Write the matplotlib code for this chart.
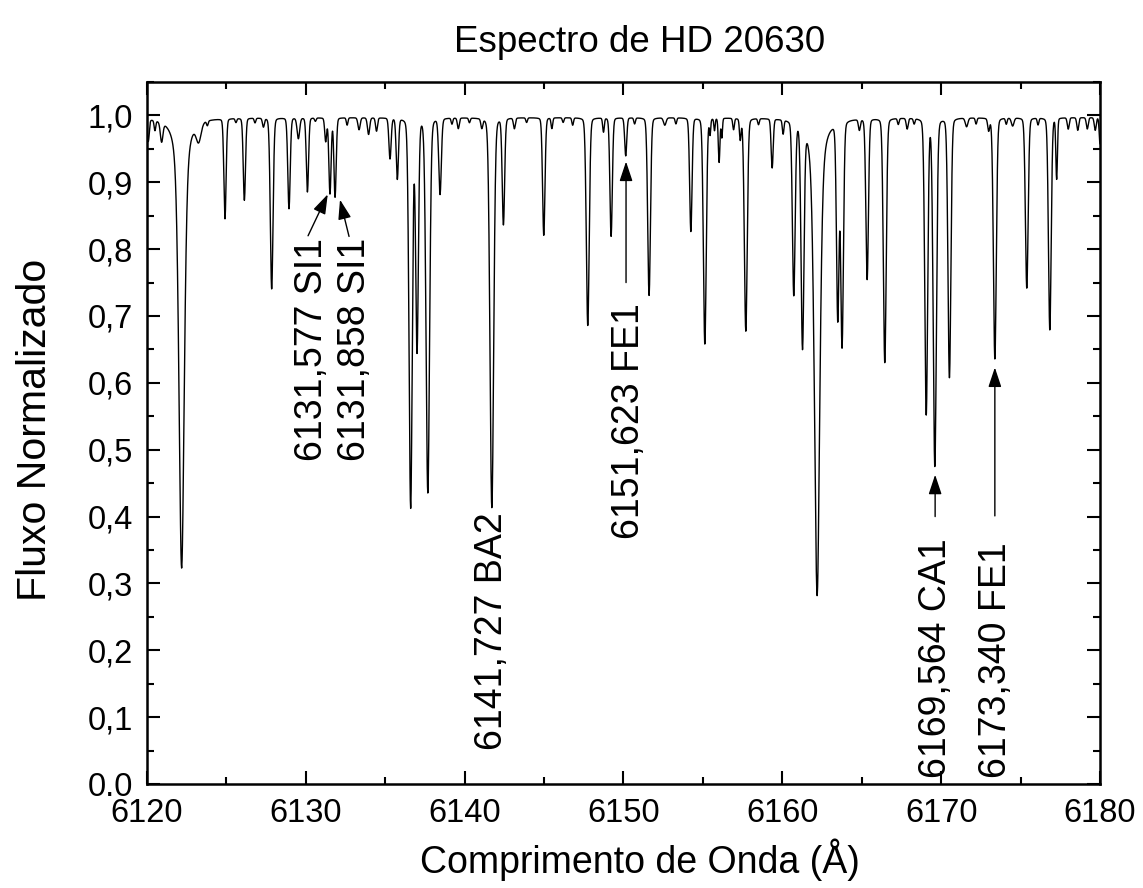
import numpy as np
import matplotlib.pyplot as plt
from matplotlib.ticker import MultipleLocator, FixedLocator, FixedFormatter

plt.rcParams['font.family'] = ['Liberation Sans', 'DejaVu Sans']

# absorption lines: centre (Å), normalised flux at the core, gaussian sigma (Å),
# lorentzian fraction of the profile
line_centre = [6120.08, 6120.50, 6120.92, 6122.18, 6123.25, 6123.8, 6124.91, 6125.6, 6126.13,
               6126.8, 6127.33, 6127.85, 6128.94, 6129.53, 6130.10, 6130.6, 6131.25, 6131.52,
               6131.84, 6132.6, 6133.35, 6133.95, 6134.45, 6135.30, 6135.76, 6136.60,
               6137.00, 6137.68, 6138.45, 6139.2, 6139.60, 6140.3, 6141.08, 6141.71,
               6142.44, 6143.13, 6143.9, 6144.98, 6145.49, 6146.2, 6146.8, 6147.75,
               6148.74, 6149.22, 6150.14, 6150.7, 6151.61, 6152.6, 6153.3, 6154.24,
               6155.12, 6155.45, 6155.73, 6156.02, 6156.19, 6156.93, 6157.35, 6157.70,
               6158.5, 6159.36, 6160.05, 6160.72, 6161.27, 6162.19, 6163.49, 6163.76,
               6164.85, 6165.34, 6166.45, 6167.3, 6167.86, 6168.3, 6169.06, 6169.60,
               6170.52, 6171.6, 6172.2, 6172.99, 6173.38, 6174.1, 6174.5, 6175.39,
               6176.1, 6176.84, 6177.27, 6178.0, 6178.6, 6179.2, 6179.7, 6180.0]
line_core = [0.964, 0.982, 0.968, 0.323, 0.970, 0.990, 0.847, 0.991, 0.874,
             0.990, 0.984, 0.741, 0.861, 0.966, 0.886, 0.992, 0.962, 0.8835,
             0.8785, 0.986, 0.979, 0.972, 0.977, 0.936, 0.906, 0.4135,
             0.6485, 0.436, 0.8835, 0.988, 0.981, 0.990, 0.983, 0.4135,
             0.838, 0.981, 0.990, 0.821, 0.981, 0.990, 0.986, 0.686,
             0.976, 0.8195, 0.940, 0.988, 0.731, 0.986, 0.988, 0.827,
             0.6585, 0.974, 0.979, 0.931, 0.968, 0.980, 0.966, 0.678,
             0.988, 0.9235, 0.976, 0.736, 0.661, 0.282, 0.701, 0.6585,
             0.981, 0.756, 0.631, 0.988, 0.981, 0.989, 0.5535, 0.476,
             0.6085, 0.984, 0.988, 0.979, 0.636, 0.988, 0.985, 0.742,
             0.987, 0.6795, 0.906, 0.980, 0.978, 0.980, 0.978, 0.958]
line_sigma = [0.06, 0.05, 0.08, 0.17, 0.15, 0.05, 0.07, 0.05, 0.07,
              0.05, 0.06, 0.085, 0.075, 0.08, 0.07, 0.05, 0.06, 0.07,
              0.07, 0.05, 0.07, 0.07, 0.06, 0.07, 0.07, 0.10,
              0.085, 0.11, 0.08, 0.05, 0.06, 0.05, 0.06, 0.115,
              0.075, 0.06, 0.05, 0.075, 0.05, 0.05, 0.05, 0.09,
              0.05, 0.075, 0.065, 0.05, 0.085, 0.08, 0.05, 0.075,
              0.09, 0.04, 0.04, 0.05, 0.04, 0.05, 0.05, 0.09,
              0.05, 0.065, 0.05, 0.085, 0.09, 0.17, 0.08, 0.085,
              0.06, 0.08, 0.09, 0.05, 0.06, 0.05, 0.09, 0.10,
              0.09, 0.08, 0.05, 0.06, 0.09, 0.05, 0.08, 0.085,
              0.05, 0.085, 0.05, 0.06, 0.06, 0.06, 0.06, 0.05]
line_eta = [0.1] * len(line_centre)
line_eta[line_centre.index(6122.18)] = 0.5
line_eta[line_centre.index(6162.19)] = 0.5
continuum = 0.997

y_ticks = [0.0, 0.1, 0.2, 0.3, 0.4, 0.5, 0.6, 0.7, 0.8, 0.9, 1.0]
y_tick_labels = ['0.0', '0,1', '0,2', '0,3', '0,4', '0,5', '0,6', '0,7', '0,8', '0,9', '1,0']

wave = np.arange(6120.0, 6180.0001, 0.01)
flux = np.full_like(wave, continuum)
for c, f, s, eta in zip(line_centre, line_core, line_sigma, line_eta):
    depth = 1 - f / continuum
    x = wave - c
    gamma = 1.1774 * s
    prof = (1 - eta) * np.exp(-0.5 * (x / s) ** 2) + eta / (1 + (x / gamma) ** 2)
    flux *= 1 - depth * prof

fig = plt.figure(figsize=(11.43, 8.88), dpi=100)
ax = fig.add_axes([147 / 1143, 1 - 784 / 888, (1100 - 147) / 1143, (784 - 82) / 888])
ax.plot(wave, flux, color='black', lw=1.0)

ax.set_xlim(6120, 6180)
ax.set_ylim(0, 1.05)
ax.xaxis.set_major_locator(MultipleLocator(10))
ax.xaxis.set_minor_locator(MultipleLocator(5))
ax.yaxis.set_major_locator(FixedLocator(y_ticks))
ax.yaxis.set_major_formatter(FixedFormatter(y_tick_labels))
ax.yaxis.set_minor_locator(MultipleLocator(0.05))
ax.tick_params(which='both', direction='in', top=True, right=True, width=1.5)
ax.tick_params(which='major', length=9.5, labelsize=23.5)
ax.tick_params(axis='x', which='major', pad=10)
ax.tick_params(axis='y', which='major', pad=10)
ax.tick_params(which='minor', length=5)
for sp in ax.spines.values():
    sp.set_linewidth(1.8)

fig.text(640 / 1143, 1 - 42 / 888, 'Espectro de HD 20630', ha='center', va='center', fontsize=26.5)
fig.text(640 / 1143, 1 - 860 / 888, 'Comprimento de Onda (Å)', ha='center', va='center', fontsize=27)
fig.text(35 / 1143, 1 - 430 / 888, 'Fluxo Normalizado', ha='center', va='center',
         rotation=90, fontsize=29.5)

arrow = dict(arrowstyle='-|>,head_length=0.6,head_width=0.2', color='black', lw=1,
             mutation_scale=20, shrinkA=0, shrinkB=0)
ann_fs = 27

ax.text(6130.37, 0.817, '6131,577 SI1', rotation=90, ha='center', va='top', fontsize=ann_fs)
ax.annotate('', xy=(6131.38, 0.882), xytext=(6130.14, 0.820), arrowprops=arrow)
ax.text(6133.10, 0.817, '6131,858 SI1', rotation=90, ha='center', va='top', fontsize=ann_fs)
ax.annotate('', xy=(6132.15, 0.874), xytext=(6132.72, 0.819), arrowprops=arrow)

ax.text(6141.71, 0.406, '6141,727 BA2', rotation=90, ha='center', va='top', fontsize=ann_fs)

ax.text(6150.35, 0.72, '6151,623 FE1', rotation=90, ha='center', va='top', fontsize=ann_fs)
ax.annotate('', xy=(6150.16, 0.931), xytext=(6150.16, 0.75), arrowprops=arrow)

ax.text(6169.67, 0.368, '6169,564 CA1', rotation=90, ha='center', va='top', fontsize=ann_fs)
ax.annotate('', xy=(6169.62, 0.4626), xytext=(6169.62, 0.400), arrowprops=arrow)

ax.text(6173.48, 0.361, '6173,340 FE1', rotation=90, ha='center', va='top', fontsize=ann_fs)
ax.annotate('', xy=(6173.38, 0.623), xytext=(6173.38, 0.401), arrowprops=arrow)

fig.savefig('out.png', dpi=100)
